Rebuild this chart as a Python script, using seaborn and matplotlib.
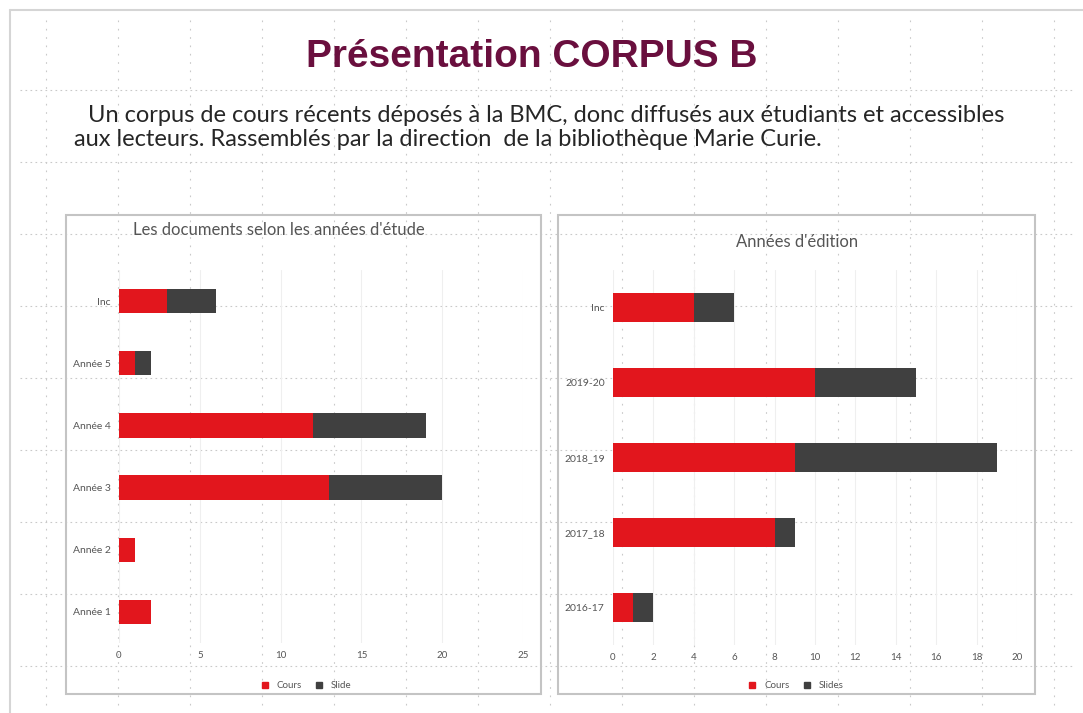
import matplotlib.pyplot as plt
import matplotlib.lines as mlines
import matplotlib.patches as mpatches
import pandas as pd
import seaborn as sns

# data
etude_cats = ["Inc", "Année 5", "Année 4", "Année 3", "Année 2", "Année 1"]
etude_cours = [3, 1, 12, 13, 1, 2]
etude_slides = [3, 1, 7, 7, 0, 0]

edition_cats = ["Inc", "2019-20", "2018_19", "2017_18", "2016-17"]
edition_cours = [4, 10, 9, 8, 1]
edition_slides = [2, 5, 10, 1, 1]

RED = "#e2161d"
DARK = "#404040"
GRID = "#c9c9c9"

sns.set_theme(style="white")
plt.rcParams["font.family"] = ["Lato", "DejaVu Sans"]

fig = plt.figure(figsize=(10.83, 7.13), dpi=100)
W, H = 1083, 713


def fx(px):
    return px / W


def fy(py):
    return 1 - py / H


# slide background grid (dotted guides)
for gy in range(90, 700, 72):
    fig.add_artist(mlines.Line2D([fx(20), fx(1075)], [fy(gy), fy(gy)], color=GRID,
                                 lw=0.8, ls=(0, (1.5, 3)), zorder=0))
for gx in range(46, 1080, 72):
    fig.add_artist(mlines.Line2D([fx(gx), fx(gx)], [fy(20), fy(705)], color=GRID,
                                 lw=0.8, ls=(0, (1.5, 6)), zorder=0))

# slide edge
fig.add_artist(mlines.Line2D([fx(10), fx(1083)], [fy(10), fy(10)], color="#d5d5d5", lw=1.5))
fig.add_artist(mlines.Line2D([fx(10), fx(10)], [fy(10), fy(713)], color="#d5d5d5", lw=1.5))

fig.text(fx(532), fy(57), "Présentation CORPUS B", ha="center", va="center",
         fontsize=28, fontweight="bold", color="#6a0f3e", family="Liberation Sans")
fig.text(fx(88), fy(115), "Un corpus de cours récents déposés à la BMC, donc diffusés aux étudiants et accessibles",
         ha="left", va="center", fontsize=17, color="#262626")
fig.text(fx(74), fy(139), "aux lecteurs. Rassemblés par la direction  de la bibliothèque Marie Curie.",
         ha="left", va="center", fontsize=17, color="#262626")

# chart frames
for x0, x1 in [(66, 541), (558, 1035)]:
    fig.add_artist(mpatches.Rectangle((fx(x0), fy(694)), fx(x1 - x0), (694 - 215) / H,
                                      fill=False, ec="#c4c4c4", lw=1.5))


def stacked(ax, cats, cours, slides, xmax, step, title, title_pos, slide_label, leg_x):
    df = pd.DataFrame({"cat": cats, "cours": cours, "slides": slides})
    df["total"] = df["cours"] + df["slides"]
    sns.barplot(data=df, y="cat", x="total", color=DARK, width=0.39, ax=ax,
                saturation=1, orient="h", linewidth=0)
    sns.barplot(data=df, y="cat", x="cours", color=RED, width=0.39, ax=ax,
                saturation=1, orient="h", linewidth=0)
    ax.set_xlim(0, xmax)
    ax.set_xticks(range(0, xmax + 1, step))
    ax.set_xlabel("")
    ax.set_ylabel("")
    ax.set_facecolor("none")
    ax.grid(axis="x", color="#efefef", lw=0.8)
    ax.set_axisbelow(True)
    sns.despine(ax=ax, left=True, bottom=True)
    ax.tick_params(axis="y", labelsize=7.5, colors="#555555", length=0, pad=6)
    ax.tick_params(axis="x", labelsize=7, colors="#555555", length=0, pad=6)
    fig.text(fx(title_pos[0]), fy(title_pos[1]), title,
             ha="center", va="center", fontsize=12, color="#555555")
    handles = [mlines.Line2D([], [], marker="s", ls="", color=RED, markersize=4.5),
               mlines.Line2D([], [], marker="s", ls="", color=DARK, markersize=4.5)]
    fig.legend(handles, ["Cours", slide_label], loc="center", bbox_to_anchor=(fx(leg_x), fy(686)),
               ncol=2, frameon=False, fontsize=7, handletextpad=0.2, columnspacing=0.8,
               labelcolor="#555555")


ax1 = fig.add_axes([fx(119), fy(643), fx(523 - 119), (643 - 270) / H])
ax2 = fig.add_axes([fx(613), fy(645), fx(1017 - 613), (645 - 270) / H])

stacked(ax1, etude_cats, etude_cours, etude_slides, 25, 5,
        "Les documents selon les années d'étude", (279, 230), "Slide", 303)
stacked(ax2, edition_cats, edition_cours, edition_slides, 20, 2,
        "Années d'édition", (797, 242), "Slides", 793)

fig.savefig("out.png", dpi=100, facecolor="white")
